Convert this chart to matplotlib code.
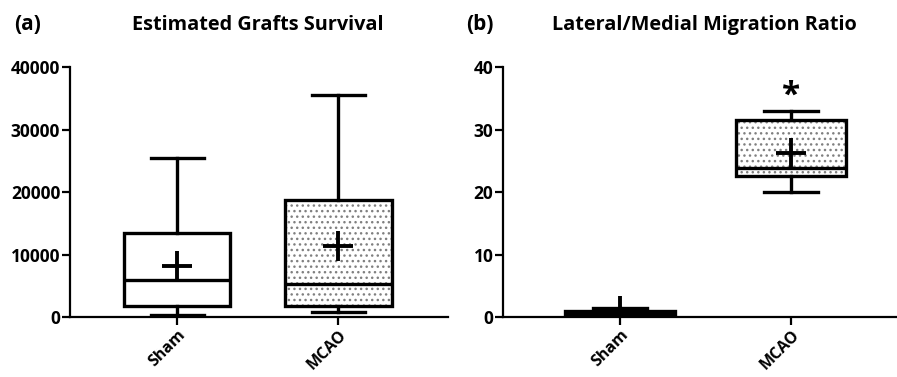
import matplotlib.pyplot as plt
from matplotlib.patches import PathPatch

plt.rcParams['font.family'] = ['Open Sans', 'DejaVu Sans']
plt.rcParams['font.weight'] = 'bold'

groups = ['Sham', 'MCAO']

# (a) Estimated Grafts Survival
a_whislo = [400, 800]
a_q1 = [1800, 1800]
a_med = [6000, 5300]
a_q3 = [13500, 18800]
a_whishi = [25500, 35500]
a_mean = [8200, 11300]

# (b) Lateral/Medial Migration Ratio
b_whislo = [0.3, 20.0]
b_q1 = [0.5, 22.6]
b_med = [0.8, 23.8]
b_q3 = [1.0, 31.6]
b_whishi = [1.4, 33.0]
b_mean = [0.9, 26.2]


def stats(lo, q1, med, q3, hi, mean):
    out = []
    for i in range(len(groups)):
        out.append(dict(whislo=lo[i], q1=q1[i], med=med[i], q3=q3[i],
                        whishi=hi[i], mean=mean[i], fliers=[], label=groups[i]))
    return out


def draw(ax, st, width, xlim, ylim, yticks):
    lw = 2.4
    bp = ax.bxp(st, positions=[1, 2], widths=width, patch_artist=True,
                showmeans=True, showcaps=True,
                boxprops=dict(facecolor='none', edgecolor='black', linewidth=lw),
                whiskerprops=dict(color='black', linewidth=lw),
                capprops=dict(color='black', linewidth=lw),
                medianprops=dict(color='black', linewidth=lw),
                meanprops=dict(marker='+', markersize=22, markeredgewidth=2.8,
                               markeredgecolor='black'),
                capwidths=width / 2)
    for b in bp['boxes']:
        b.set_zorder(3)
    # dotted fill of the MCAO box
    dots = PathPatch(bp['boxes'][1].get_path(), facecolor='white',
                     edgecolor='0.5', hatch='...', linewidth=0, zorder=1)
    ax.add_patch(dots)

    ax.set_xlim(*xlim)
    ax.set_ylim(*ylim)
    ax.set_yticks(yticks)
    ax.set_xticks([1, 2])
    ax.set_xticklabels(groups, rotation=45, ha='right', rotation_mode='anchor',
                       fontsize=11.5, fontweight='bold')
    for t in ax.get_yticklabels():
        t.set_fontsize(12.5)
        t.set_fontweight('bold')
    ax.spines['top'].set_visible(False)
    ax.spines['right'].set_visible(False)
    ax.spines['left'].set_linewidth(1.6)
    ax.spines['bottom'].set_linewidth(1.6)
    ax.tick_params(axis='both', length=6, width=1.6, direction='out', pad=1)
    ax.patch.set_alpha(0)


fig = plt.figure(figsize=(8.97, 3.77), dpi=100)
ax1 = fig.add_axes([0.078, 0.159, 0.4214, 0.6631])
ax2 = fig.add_axes([0.5608, 0.159, 0.4392, 0.6631])

draw(ax1, stats(a_whislo, a_q1, a_med, a_q3, a_whishi, a_mean), 0.66,
     (0.335, 2.68), (0, 40000), [0, 10000, 20000, 30000, 40000])
draw(ax2, stats(b_whislo, b_q1, b_med, b_q3, b_whishi, b_mean), 0.64,
     (0.316, 2.62), (0, 40), [0, 10, 20, 30, 40])

ax2.text(2, 35.3, '*', ha='center', va='center', fontsize=24, fontweight='bold')

fig.text(14 / 897, 1 - 25 / 377, '(a)', ha='left', va='center', fontsize=15, fontweight='bold')
fig.text(258 / 897, 1 - 25 / 377, 'Estimated Grafts Survival', ha='center', va='center',
         fontsize=14.3, fontweight='bold')
fig.text(466 / 897, 1 - 25 / 377, '(b)', ha='left', va='center', fontsize=15, fontweight='bold')
fig.text(704 / 897, 1 - 25 / 377, 'Lateral/Medial Migration Ratio', ha='center', va='center',
         fontsize=14.3, fontweight='bold')

fig.savefig('out.png', dpi=100)
